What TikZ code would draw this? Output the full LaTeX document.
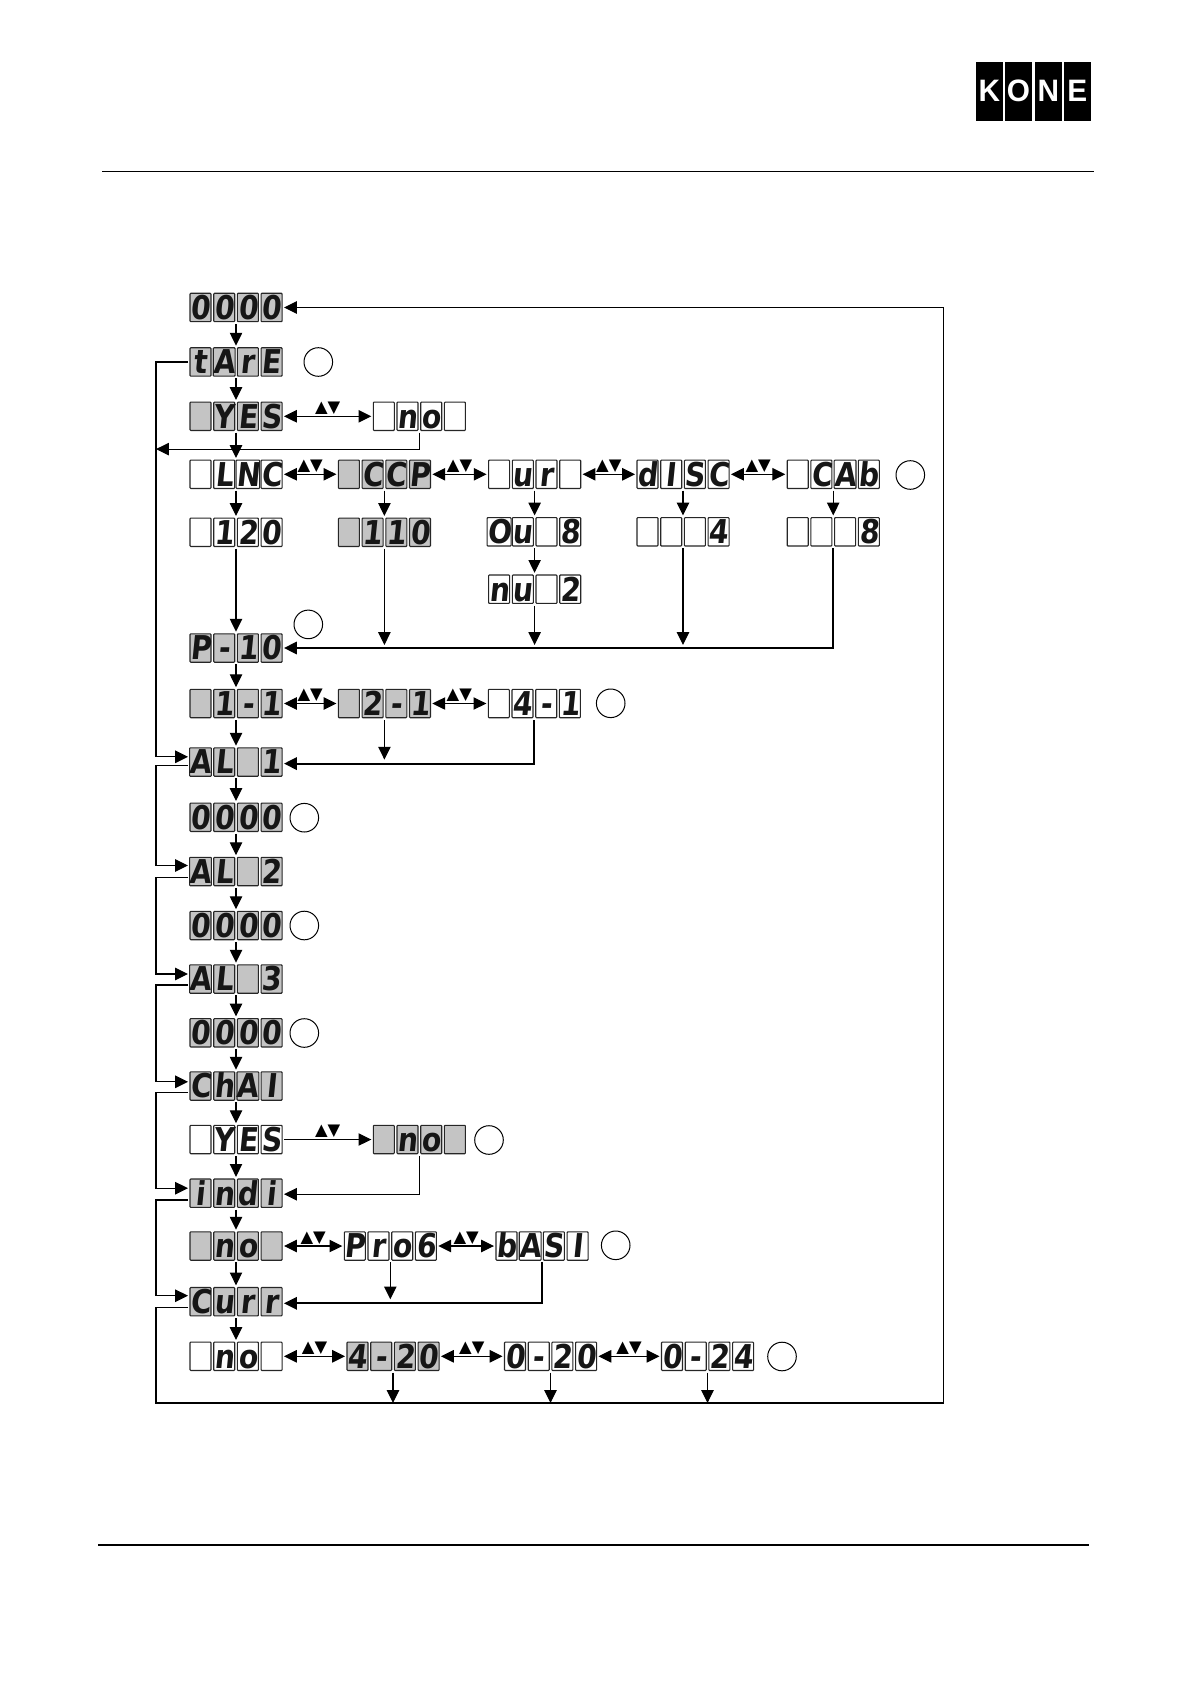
\documentclass[tikz,border=0pt]{standalone}
\usepackage{fontspec}
\usetikzlibrary{arrows.meta,calc}
\setmainfont{Liberation Sans}
\newfontfamily\lcdfont[FakeStretch=0.86,FakeSlant=0.1]{DejaVu Sans Bold}
\newfontfamily\symfont{DejaVu Sans}
\newfontfamily\logofont[FakeStretch=0.96]{Liberation Sans Bold}
\definecolor{lcdgrey}{RGB}{196,196,196}
\definecolor{lcdink}{RGB}{22,22,22}
\tikzset{
  cell/.style={rectangle,draw=black!85,line width=.55pt,minimum width=10.5pt,minimum height=14.2pt,
    inner sep=0pt,outer sep=0pt,text=lcdink,font=\lcdfont\fontsize{16.4}{16.4}\selectfont,
    text height=11.9pt,text depth=0pt,rounded corners=.4pt},
  disp/.style={rectangle,draw=none,minimum width=45.8pt,minimum height=14.2pt,inner sep=0pt,outer sep=1.1pt},
  flow/.style={line width=.55pt,draw=black,-{Triangle[length=6.4pt,width=6.2pt]}},
  both/.style={line width=.55pt,draw=black,{Triangle[length=6.4pt,width=6.2pt]}-{Triangle[length=6.4pt,width=6.2pt]}},
  heavy/.style={line width=.95pt},
  plain/.style={line width=.55pt,draw=black},
  ref/.style={circle,draw=black,line width=.5pt,minimum size=14.3pt,inner sep=0pt},
  updown/.style={font=\symfont\fontsize{8.2}{8.2}\selectfont,inner sep=0pt,yshift=4.1pt,text=black},
  logobox/.style={rectangle,fill=black,minimum width=13.3pt,minimum height=29.3pt,inner sep=0pt,text=white,
    font=\logofont\fontsize{15.5}{15.5}\selectfont},
}
% \lcd{name}{left x}{centre y}{fill}{a}{b}{c}{d}
\newcommand{\lcd}[8]{%
  \node[cell,fill=#4] (#1-a) at ({#2+10.5},#3) {#5};
  \node[cell,fill=#4] (#1-b) at ({#2+34.2},#3) {#6};
  \node[cell,fill=#4] (#1-c) at ({#2+57.9},#3) {#7};
  \node[cell,fill=#4] (#1-d) at ({#2+81.6},#3) {#8};
  \node[disp] (#1) at ({#2+46},#3) {};
}
% two-way link with the up/down keys over it
\newcommand{\twoway}[3]{\draw[both] (#1.east) -- (#2.west) node[updown,midway] (#3) {▲▼};}
\begin{document}
\begin{tikzpicture}[x=.5pt,y=-.5pt]
\useasboundingbox (0,0) rectangle (1190,1684);
% page furniture
\draw[line width=.55pt] (102,171.3) coordinate (rt1) -- (1094.4,171.3) coordinate (rt2);
\draw[line width=.55pt] (98.3,1545) coordinate (rb1) -- (1089,1545) coordinate (rb2);
\node[logobox] (logoK) at (989.4,91.3) {K};
\node[logobox] (logoO) at (1018.5,91.3) {O};
\node[logobox] (logoN) at (1048.4,91.3) {N};
\node[logobox] (logoE) at (1077.4,91.3) {E};

% displays
\lcd{home}{190}{307.5}{lcdgrey}{0}{0}{0}{0}
\lcd{tare}{190}{362}{lcdgrey}{t}{A}{r}{E}
\lcd{yes}{190}{416.3}{lcdgrey}{}{Y}{E}{S}
\lcd{no}{373.3}{416.3}{white}{}{n}{o}{}
\lcd{lnc}{190}{474.3}{white}{}{L}{N}{C}
\lcd{ccp}{338.4}{474.3}{lcdgrey}{}{C}{C}{P}
\lcd{ur}{488.6}{474.3}{white}{}{u}{r}{}
\lcd{disc}{637}{474.3}{white}{d}{I}{S}{C}
\lcd{cab}{787.2}{474.3}{white}{}{C}{A}{b}
\lcd{v120}{190}{532.3}{white}{}{1}{2}{0}
\lcd{v110}{338.4}{532.3}{lcdgrey}{}{1}{1}{0}
\lcd{ov}{488.6}{531.8}{white}{O}{u}{}{8}
\lcd{nu}{488.6}{589.2}{white}{n}{u}{}{2}
\lcd{v4}{637}{531.8}{white}{}{}{}{4}
\lcd{v8}{787.2}{531.8}{white}{}{}{}{8}
\lcd{pten}{190}{648}{lcdgrey}{P}{-}{1}{0}
\lcd{oneone}{190}{703.5}{lcdgrey}{}{1}{-}{1}
\lcd{twoone}{338.4}{703.5}{lcdgrey}{}{2}{-}{1}
\lcd{fourone}{488.3}{703.5}{white}{}{4}{-}{1}
\lcd{ala}{190}{762}{lcdgrey}{A}{L}{}{1}
\lcd{vala}{190}{817.3}{lcdgrey}{0}{0}{0}{0}
\lcd{alb}{190}{871.5}{lcdgrey}{A}{L}{}{2}
\lcd{valb}{190}{925.5}{lcdgrey}{0}{0}{0}{0}
\lcd{alc}{190}{979}{lcdgrey}{A}{L}{}{3}
\lcd{valc}{190}{1032.8}{lcdgrey}{0}{0}{0}{0}
\lcd{chai}{190}{1086}{lcdgrey}{C}{h}{A}{I}
\lcd{chyes}{190}{1139.5}{white}{}{Y}{E}{S}
\lcd{chno}{373.3}{1139.5}{lcdgrey}{}{n}{o}{}
\lcd{indi}{190}{1193.2}{lcdgrey}{i}{n}{d}{i}
\lcd{inno}{190}{1246}{lcdgrey}{}{n}{o}{}
\lcd{prog}{344.3}{1246}{white}{P}{r}{o}{6}
\lcd{basi}{496}{1246}{white}{b}{A}{S}{I}
\lcd{curr}{190}{1301.7}{lcdgrey}{C}{u}{r}{r}
\lcd{cuno}{190}{1356.3}{white}{}{n}{o}{}
\lcd{four}{347}{1356.3}{lcdgrey}{4}{-}{2}{0}
\lcd{zero}{504.5}{1356.3}{white}{0}{-}{2}{0}
\lcd{zerof}{661.5}{1356.3}{white}{0}{-}{2}{4}

% reference circles
\node[ref] (c1) at (318.3,362) {};
\node[ref] (c2) at (910.3,475) {};
\node[ref] (c3) at (308.3,624.4) {};
\node[ref] (c4) at (610.7,703.3) {};
\node[ref] (c5) at (304.3,817.7) {};
\node[ref] (c6) at (304.3,925.5) {};
\node[ref] (c7) at (304.3,1033) {};
\node[ref] (c8) at (489,1140) {};
\node[ref] (c9) at (615.7,1245.3) {};
\node[ref] (c10) at (782,1356.5) {};

% bus corner points
\coordinate (lb) at (156,0);
\coordinate (rb) at (943.5,0);
\coordinate (bb) at (0,1403);

% down the first column
\foreach \a/\b in {home/tare,tare/yes,yes/lnc,lnc/v120,v120/pten,pten/oneone,oneone/ala,ala/vala,vala/alb,alb/valb,valb/alc,alc/valc,valc/chai,chai/chyes,chyes/indi,indi/inno,inno/curr,curr/cuno}
  \draw[flow] (\a.south) -- (\b.north);
\draw[flow] (ccp.south) -- (v110.north);
\draw[flow] (ur.south) -- (ov.north);
\draw[flow] (ov.south) -- (nu.north);
\draw[flow] (disc.south) -- (v4.north);
\draw[flow] (cab.south) -- (v8.north);

% keys
\twoway{yes}{no}{k1}
\twoway{lnc}{ccp}{k2}
\twoway{ccp}{ur}{k3}
\twoway{ur}{disc}{k4}
\twoway{disc}{cab}{k5}
\twoway{oneone}{twoone}{k6}
\twoway{twoone}{fourone}{k7}
\twoway{inno}{prog}{k8}
\twoway{prog}{basi}{k9}
\twoway{cuno}{four}{k10}
\twoway{four}{zero}{k11}
\twoway{zero}{zerof}{k12}
\draw[flow] (chyes.east) -- (chno.west) node[updown,midway] (k13) {▲▼};

% no -> left bus
\coordinate (noj) at ($(no.south)+(0,-8.2pt)$);
\draw[flow] (no.south) -- (noj) -- (lb |- noj);

% into P-10
\draw[flow,heavy] (v8.south) -- (v8.south |- pten.east) -- (pten.east);
\foreach \a in {v110,nu,v4} \draw[flow] (\a.south) -- ([yshift=1.5pt]\a.south |- pten.east);

% into AL 1
\coordinate (inala) at ([yshift=-.8pt]ala.east);
\draw[flow,heavy] (fourone.south) -- (fourone.south |- inala) -- (inala);
\draw[flow] (twoone.south) -- ([yshift=2pt]twoone.south |- inala);

% chain no -> indi
\coordinate (inindi) at ([yshift=-.5pt]indi.east);
\draw[flow] (chno.south) -- (chno.south |- inindi) -- (inindi);

% into Curr
\coordinate (incurr) at ([yshift=-.8pt]curr.east);
\draw[flow,heavy] (basi.south) -- (basi.south |- incurr) -- (incurr);
\draw[flow] (prog.south) -- ([yshift=2pt]prog.south |- incurr);

% left bus: each item skips to the next one
\foreach \a/\b/\o/\i in {tare/ala/0/2.6,ala/alb/-1.9/3,alb/alc/-3/2.5,alc/chai/-3/2.1,chai/indi/-3.1/2.5,indi/curr/-3.4/3}{
  \coordinate (from) at ([yshift=\o pt]\a.west);
  \coordinate (to) at ([yshift=\i pt]\b.west);
  \draw[flow] (from) -- (lb |- from) -- (lb |- to) -- (to);
}
% bottom and right bus back to the top
\coordinate (from) at ([yshift=-3pt]curr.west);
\draw[plain] (from) -- (lb |- from) -- (lb |- bb) -- (rb |- bb);
\draw[flow] (rb |- bb) -- (rb |- home.east) -- (home.east);
\foreach \a in {four,zero,zerof} \draw[flow] (\a.south) -- (\a.south |- bb);
\end{tikzpicture}
\end{document}
